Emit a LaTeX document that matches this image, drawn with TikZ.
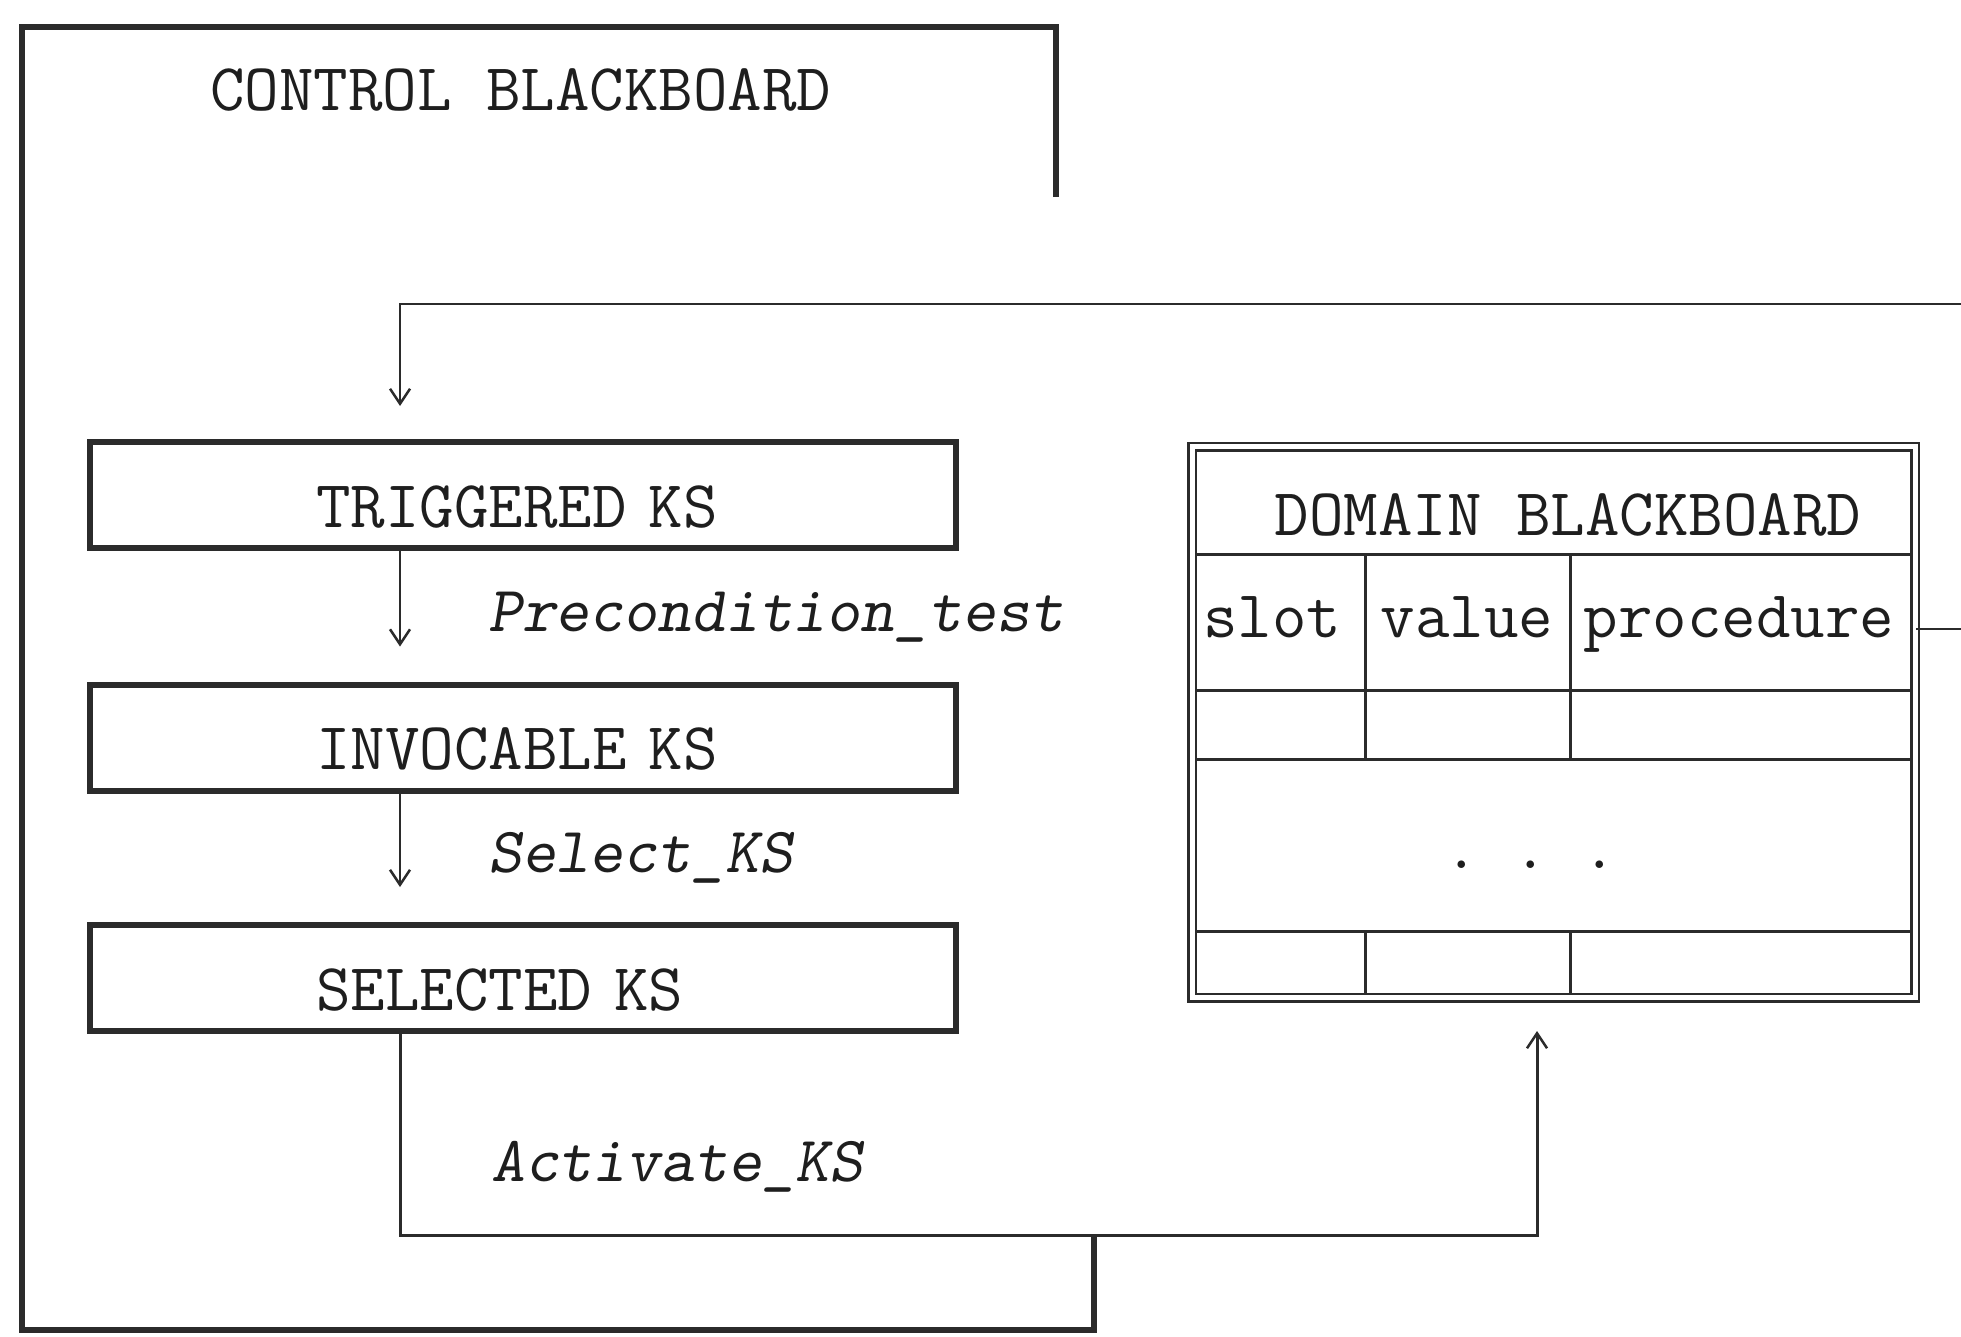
\documentclass[tikz,border=0pt]{standalone}
\usepackage{fontspec}
\usetikzlibrary{arrows.meta}
\definecolor{ink}{HTML}{2B2B2B}
\definecolor{textink}{HTML}{1E1E1E}

\begin{document}
\begin{tikzpicture}[x=1pt,y=-1pt,
  every node/.style={font=\fontsize{67}{72}\selectfont\ttfamily, text=textink, inner sep=0pt},
  ctrlframe/.style={draw=ink, line width=6pt, line join=miter},
  ksbox/.style={draw=ink, line width=6pt, minimum width=866pt, minimum height=106pt,
    text width=414pt, align=left, text height=70pt, text depth=6pt},
  flow/.style={draw=ink, line width=2.5pt},
  arrowhead/.style={-{Straight Barb[length=15pt,width=20pt,line width=2.5pt]}},
  steplabel/.style={font=\fontsize{64.5}{70}\selectfont\ttfamily\slshape, anchor=base west},
  domframe/.style={draw=ink, line width=2.5pt, double, double distance=5pt,
    minimum width=723pt, minimum height=551pt},
  cellline/.style={draw=ink, line width=3pt},
]
\useasboundingbox (0,0) rectangle (1961,1336);

% ---- control blackboard frame (open on the right) ----
\coordinate (cTR)  at (1056,197);
\coordinate (cTRc) at (1056,27);
\coordinate (cTL)  at (22,27);
\coordinate (cBL)  at (22,1330);
\coordinate (cBR)  at (1094,1330);
\coordinate (cBRe) at (1094,1235);
\draw[ctrlframe] (cTR) -- (cTRc) -- (cTL) -- (cBL) -- (cBR) -- (cBRe);
\node[anchor=base west] (ctitle) at (210,110) {CONTROL BLACKBOARD};

% ---- knowledge source stages ----
\node[ksbox] (trig) at (523,495)   {TRIGGERED KS};
\node[ksbox] (invo) at (523,737.5) {INVOCABLE KS};
\node[ksbox] (sel)  at (523,978)   {SELECTED KS};

\coordinate (spine) at (400,0);

% feedback from the domain blackboard procedures
\coordinate (fbR)   at (1961,304);
\coordinate (fbL)   at (400,304);
\coordinate (fbEnd) at (400,406);
\draw[flow, arrowhead] (fbR) -- (fbL) -- (fbEnd);

\draw[flow, arrowhead] (trig.south -| spine) -- ([yshift=35pt]invo.north -| spine);
\node[steplabel] (pre) at (488,631) {Precondition\_test};

\draw[flow, arrowhead] (invo.south -| spine) -- ([yshift=35pt]sel.north -| spine);
\node[steplabel] (slct) at (488,872) {Select\_KS};

% ---- domain blackboard ----
\node[domframe] (dom) at (1553.5,722) {};
\node[anchor=base] (dtitle) at (1568,535) {DOMAIN BLACKBOARD};

\draw[cellline] (1196,554) -- (1910,554);
\draw[cellline] (1196,690) -- (1910,690);
\draw[cellline] (1196,759) -- (1910,759);
\draw[cellline] (1196,931) -- (1910,931);
\draw[cellline] (1365,554) -- (1365,759);
\draw[cellline] (1570,554) -- (1570,759);
\draw[cellline] (1365,931) -- (1365,995);
\draw[cellline] (1570,931) -- (1570,995);

\node[anchor=base] (slot)  at (1272,637) {slot};
\node[anchor=base] (value) at (1467,637) {value};
\node[anchor=base] (proc)  at (1739,637) {procedure};
\node[anchor=base] (dots)  at (1531,868) {.\ .\ .};

\coordinate (procOut) at (1961,629);
\draw[flow] (dom.east |- procOut) -- (procOut);

% ---- activation path ----
\coordinate (actCorner) at (400,1235);
\coordinate (actRight)  at (1537,1235);
\coordinate (actTip)    at (1537,1031);
\draw[flow, line width=3pt, arrowhead] (sel.south -| spine) -- (actCorner) -- (actRight) -- (actTip);
\node[steplabel] (act) at (491,1181) {Activate\_KS};
\end{tikzpicture}
\end{document}
